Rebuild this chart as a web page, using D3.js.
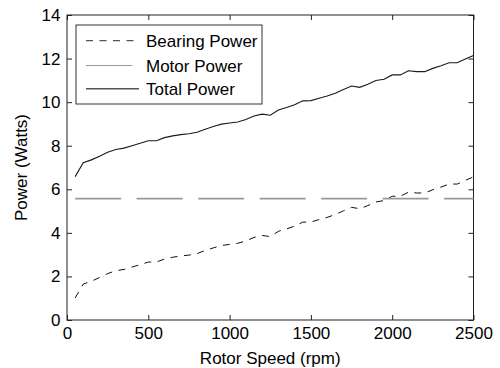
<!DOCTYPE html>
<html>
<head>
<meta charset="utf-8">
<script src="https://cdn.jsdelivr.net/npm/d3@7"></script>
<style>
html,body{margin:0;padding:0;background:#fff;}
svg{display:block;}
text{font-family:"Liberation Sans",Arial,Helvetica,sans-serif;}
</style>
</head>
<body>
<svg id="chart" width="500" height="368"></svg>
<script>
// Rotor speed samples (rpm)
const rpm = [50,100,150,200,250,300,350,400,450,500,550,600,650,700,750,800,850,900,950,1000,
  1050,1100,1150,1200,1250,1300,1350,1400,1450,1500,1550,1600,1650,1700,1750,1800,1850,1900,1950,2000,
  2050,2100,2150,2200,2250,2300,2350,2400,2450,2500];
// Bearing Power (W)
const bearingPower = [1.01,1.65,1.78,1.95,2.13,2.26,2.32,2.43,2.54,2.66,2.66,2.80,2.88,2.94,2.98,3.05,3.19,3.31,3.42,3.47,
  3.52,3.63,3.79,3.88,3.83,4.07,4.18,4.31,4.49,4.50,4.61,4.71,4.84,5.01,5.17,5.11,5.25,5.42,5.48,5.68,
  5.68,5.87,5.83,5.83,5.98,6.10,6.24,6.24,6.41,6.57];
// Motor Power (W) - constant
const motorPower = [5.57,5.57,5.57,5.57,5.57,5.57,5.57,5.57,5.57,5.57,5.57,5.57,5.57,5.57,5.57,5.57,5.57,5.57,5.57,5.57,
  5.57,5.57,5.57,5.57,5.57,5.57,5.57,5.57,5.57,5.57,5.57,5.57,5.57,5.57,5.57,5.57,5.57,5.57,5.57,5.57,
  5.57,5.57,5.57,5.57,5.57,5.57,5.57,5.57,5.57,5.57];
// Total Power (W)
const totalPower = [6.58,7.22,7.35,7.52,7.70,7.83,7.89,8.00,8.11,8.23,8.23,8.37,8.45,8.51,8.55,8.62,8.76,8.88,8.99,9.04,
  9.09,9.20,9.36,9.45,9.40,9.64,9.75,9.88,10.06,10.07,10.18,10.28,10.41,10.58,10.74,10.68,10.82,10.99,11.05,11.25,
  11.25,11.44,11.40,11.40,11.55,11.67,11.81,11.81,11.98,12.14];

const xTicks = [0,500,1000,1500,2000,2500];
const yTicks = [0,2,4,6,8,10,12,14];
const seriesNames = ["Bearing Power","Motor Power","Total Power"];
const xTitle = "Rotor Speed (rpm)";
const yTitle = "Power (Watts)";

const svg = d3.select("#chart");
const L = 67, R = 473.5, T = 15, B = 320;
const x = d3.scaleLinear().domain([0,2500]).range([L,R]);
const y = d3.scaleLinear().domain([0,14]).range([B,T]);

const axisColor = "#222";
const fontSize = "17px";

function styleAxis(g, hideLabels){
  g.attr("font-family", null).attr("font-size", null);
  g.select(".domain").remove();
  g.selectAll(".tick line").attr("stroke", axisColor).attr("stroke-width", 1);
  g.selectAll(".tick text").attr("fill","#000").style("font-size", fontSize);
  if (hideLabels) g.selectAll(".tick text").remove();
}

svg.append("g").attr("transform",`translate(0,${B})`)
  .call(d3.axisBottom(x).tickValues(xTicks).tickSizeInner(-5).tickSizeOuter(0).tickPadding(7).tickFormat(d3.format("d")))
  .call(g=>styleAxis(g,false));
svg.append("g").attr("transform",`translate(0,${T})`)
  .call(d3.axisTop(x).tickValues(xTicks).tickSizeInner(-5).tickSizeOuter(0))
  .call(g=>styleAxis(g,true));
svg.append("g").attr("transform",`translate(${L},0)`)
  .call(d3.axisLeft(y).tickValues(yTicks).tickSizeInner(-5).tickSizeOuter(0).tickPadding(6.5).tickFormat(d3.format("d")))
  .call(g=>styleAxis(g,false));
svg.append("g").attr("transform",`translate(${R},0)`)
  .call(d3.axisRight(y).tickValues(yTicks).tickSizeInner(-5).tickSizeOuter(0))
  .call(g=>styleAxis(g,true));

svg.append("rect").attr("x",L).attr("y",T).attr("width",R-L).attr("height",B-T)
  .attr("fill","none").attr("stroke",axisColor).attr("stroke-width",1);

const line = d3.line().x((d,i)=>x(rpm[i])).y(d=>y(d));

const styles = [
  {data: bearingPower, stroke:"#111", width:1, dash:"7,6.5"},
  {data: motorPower, stroke:"#999", width:1.6, dash:"46,15.5"},
  {data: totalPower, stroke:"#1a1a1a", width:1.1, dash:null}
];

styles.forEach(s=>{
  svg.append("path").datum(s.data).attr("d", line)
    .attr("fill","none").attr("stroke", s.stroke).attr("stroke-width", s.width)
    .attr("stroke-dasharray", s.dash);
});

// Legend
const lg = svg.append("g");
lg.append("rect").attr("x",76).attr("y",25).attr("width",186).attr("height",79)
  .attr("fill","#fff").attr("stroke","#333").attr("stroke-width",1);
const legendY = [40.7, 65.5, 88.8];
const legendStyles = [
  {stroke:"#555", width:1.2, dash:"7,6.5", x2:139},
  {stroke:"#999", width:1.2, dash:null, x2:132},
  {stroke:"#555", width:1.6, dash:null, x2:139}
];
seriesNames.forEach((n,i)=>{
  const st = legendStyles[i];
  lg.append("line").attr("x1",86).attr("x2",st.x2).attr("y1",legendY[i]).attr("y2",legendY[i])
    .attr("stroke",st.stroke).attr("stroke-width",st.width).attr("stroke-dasharray",st.dash);
  lg.append("text").attr("x",146).attr("y",legendY[i]).attr("dy","0.36em")
    .style("font-size",fontSize).attr("fill","#000").text(n);
});

// Axis titles
svg.append("text").attr("x",(L+R)/2).attr("y",364).attr("text-anchor","middle")
  .style("font-size",fontSize).attr("fill","#000").text(xTitle);
svg.append("text").attr("transform",`translate(27,${(T+B)/2}) rotate(-90)`).attr("text-anchor","middle")
  .style("font-size",fontSize).attr("fill","#000").text(yTitle);
</script>
</body>
</html>
